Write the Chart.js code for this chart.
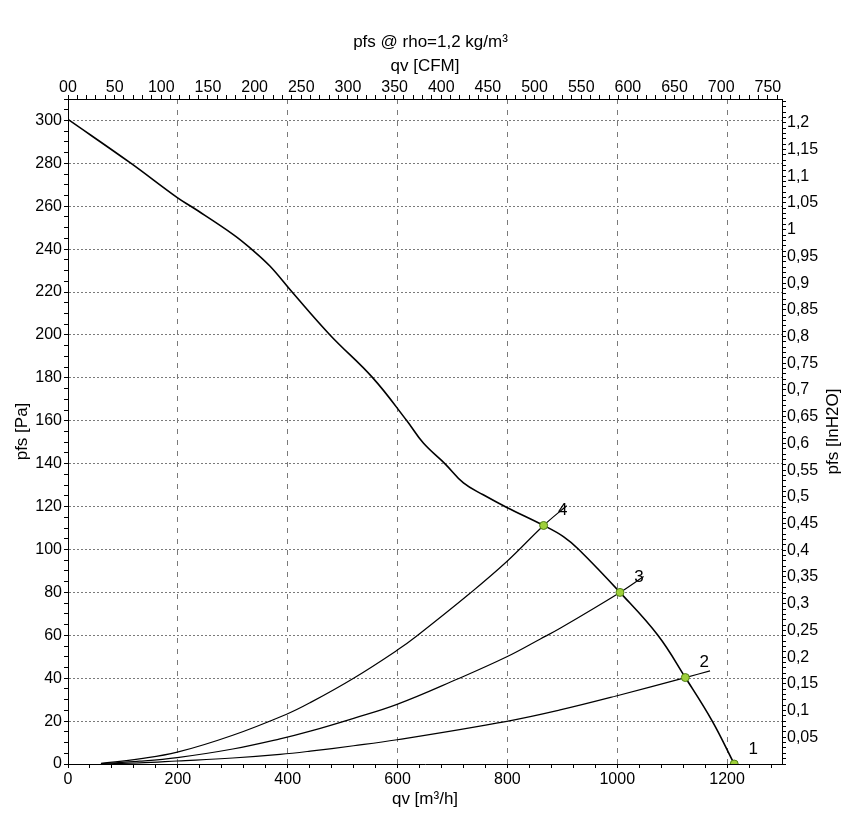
<!DOCTYPE html>
<html>
<head>
<meta charset="utf-8">
<script src="https://cdn.jsdelivr.net/npm/chart.js@4/dist/chart.umd.min.js"></script>
<style>
  html, body { margin: 0; padding: 0; background: #fff; }
  canvas { display: block; }
</style>
</head>
<body>
<canvas id="c" width="861" height="840"></canvas>
<script>
// ---- data ----
const fanQ = [0, 113, 199, 228, 301, 335, 368, 408, 477, 555, 617, 647, 687, 720, 756, 799, 866, 902, 930, 1005, 1074, 1124, 1173, 1213];
const fanP = [300.5, 280.3, 264, 259.3, 246.8, 239.8, 232, 220, 200, 180, 160, 149.6, 139.8, 131, 125.5, 119.6, 111.2, 106, 100, 80, 60, 40.3, 20, 0];

const sys4Q = [60, 130, 199, 300, 398, 441, 520, 599, 635, 732, 799, 866, 908];
const sys4P = [0.3, 2.4, 5.5, 13.4, 23.2, 28.6, 40, 53, 59.7, 79.6, 94.4, 111.2, 120.4];

const sys3Q = [60, 130, 199, 300, 386, 441, 520, 599, 708, 799, 860, 896, 1005, 1048];
const sys3P = [0.2, 1.3, 3, 7, 11.7, 15.3, 21.3, 27.8, 39.5, 50, 58.3, 63.3, 80, 87.4];

const sys2Q = [60, 130, 199, 300, 386, 441, 520, 599, 799, 896, 998, 1124, 1169];
const sys2P = [0.1, 0.5, 1.4, 2.8, 4.5, 6, 8.5, 11.3, 19.9, 25.2, 31.7, 40.3, 43.4];

const opQ = [1213, 1124, 1005, 866];
const opP = [0, 40.3, 80, 111.2];
const opLabels = ['1', '2', '3', '4'];

const qvMax = 1300;            // m3/h
const pMax = 310;              // Pa
const M3H_PER_CFM = 1.699;     // unit conversion for top axis
const PA_PER_INH2O = 249.089;  // unit conversion for right axis

const FONT = "'Liberation Sans', Arial, sans-serif";

const pts = (q, p) => q.map((v, i) => ({x: v, y: p[i]}));

const extras = {
  id: 'extras',
  afterDatasetsDraw(chart) {
    const {ctx, scales: {x, y}, chartArea} = chart;
    ctx.save();
    ctx.fillStyle = '#000';
    ctx.textAlign = 'center';
    ctx.textBaseline = 'middle';
    ctx.font = '17px ' + FONT;
    opQ.forEach((q, i) => {
      ctx.fillText(opLabels[i], x.getPixelForValue(q) + 19, y.getPixelForValue(opP[i]) - 15);
    });
    ctx.font = '17px ' + FONT;
    ctx.translate(chart.width - 28, (chartArea.top + chartArea.bottom) / 2);
    ctx.rotate(-Math.PI / 2);
    ctx.fillText('pfs [InH2O]', 0, 0);
    ctx.restore();
  }
};

const tickFont = {family: FONT, size: 16};
const titleFont = {family: FONT, size: 17, lineHeight: 1.2};
const gridGray = '#7a7a7a';

const curve = (q, p, w) => ({
  data: pts(q, p),
  showLine: true, borderColor: '#000', borderWidth: w,
  pointRadius: 0, tension: 0.4,
  xAxisID: 'x', yAxisID: 'y'
});

new Chart(document.getElementById('c'), {
  type: 'scatter',
  data: {
    datasets: [
      {
        data: pts(opQ, opP),
        pointRadius: 4,
        pointBorderWidth: 1,
        pointBackgroundColor: '#9fd03a',
        pointBorderColor: '#4f7f17',
        showLine: false,
        xAxisID: 'x', yAxisID: 'y'
      },
      curve(fanQ, fanP, 1.6),
      curve(sys4Q, sys4P, 1.2),
      curve(sys3Q, sys3P, 1.2),
      curve(sys2Q, sys2P, 1.2)
    ]
  },
  options: {
    responsive: false,
    animation: false,
    devicePixelRatio: 1,
    layout: {padding: 0},
    plugins: {
      legend: {display: false},
      tooltip: {enabled: false},
      title: {
        display: true,
        text: 'pfs @ rho=1,2 kg/m³',
        color: '#000',
        font: {family: FONT, size: 17, weight: 'normal', lineHeight: 1.2},
        padding: {top: 32, bottom: 0}
      }
    },
    scales: {
      x: {
        type: 'linear', position: 'bottom', min: 0, max: qvMax,
        afterFit: s => { s.height = 76; },
        ticks: {
          stepSize: 40, autoSkip: false, includeBounds: false, maxRotation: 0,
          color: '#000', font: tickFont, padding: 2,
          callback: v => (v % 200 === 0 ? String(v) : '')
        },
        grid: {
          color: c => (c.tick && c.tick.value % 200 === 0 && c.tick.value > 0) ? gridGray : 'rgba(0,0,0,0)',
          tickColor: '#000', tickWidth: 1, tickLength: 4, tickBorderDash: []
        },
        border: {display: true, color: '#000', width: 1, dash: [5, 6]},
        title: {display: true, text: 'qv [m³/h]', color: '#000', font: titleFont, padding: {top: 0, bottom: 30}}
      },
      x2: {
        type: 'linear', position: 'top', min: 0, max: qvMax / M3H_PER_CFM,
        afterFit: s => { s.height = 46.6; },
        ticks: {
          stepSize: 10, autoSkip: false, includeBounds: false, maxRotation: 0,
          color: '#000', font: tickFont, padding: -2,
          callback: v => (v === 0 ? '00' : (Math.round(v) % 50 === 0 ? String(Math.round(v)) : ''))
        },
        grid: {drawOnChartArea: false, color: '#000', tickColor: '#000', tickWidth: 1, tickLength: 4, tickBorderDash: []},
        border: {display: true, color: '#000', width: 1},
        title: {display: true, text: 'qv [CFM]', color: '#000', font: titleFont, padding: {top: 3.4, bottom: 0}}
      },
      y: {
        type: 'linear', position: 'left', min: 0, max: pMax,
        afterFit: s => { s.width = 68; },
        ticks: {
          stepSize: 5, autoSkip: false, includeBounds: false,
          color: '#000', font: tickFont, padding: 2,
          callback: v => (v % 20 === 0 ? String(v) : '')
        },
        grid: {
          color: c => (c.tick && c.tick.value % 20 === 0 && c.tick.value > 0) ? gridGray : 'rgba(0,0,0,0)',
          tickColor: '#000', tickWidth: 1, tickLength: 4, tickBorderDash: []
        },
        border: {display: true, color: '#000', width: 1, dash: [2, 2]},
        title: {display: true, text: 'pfs [Pa]', color: '#000', font: titleFont, padding: {top: 12, bottom: 0}}
      },
      y2: {
        type: 'linear', position: 'right', min: 0, max: pMax / PA_PER_INH2O,
        afterFit: s => { s.width = 79; },
        ticks: {
          stepSize: 0.01, autoSkip: false, includeBounds: false,
          color: '#000', font: tickFont, padding: 1,
          callback: v => {
            const h = Math.round(v * 100);
            if (h === 0 || h % 5 !== 0) return '';
            return String(h / 100).replace('.', ',');
          }
        },
        grid: {drawOnChartArea: false, color: '#000', tickColor: '#000', tickWidth: 1, tickLength: 4, tickBorderDash: []},
        border: {display: true, color: '#000', width: 1}
      }
    }
  },
  plugins: [extras]
});
</script>
</body>
</html>
